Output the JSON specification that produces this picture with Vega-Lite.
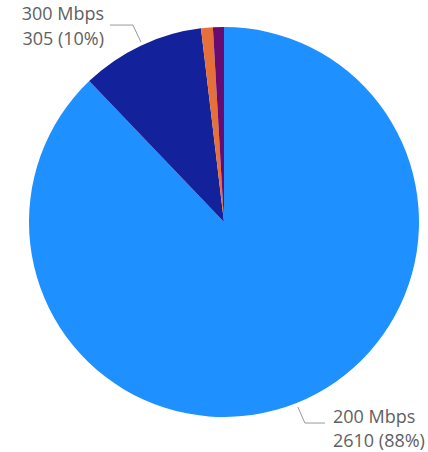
{
  "$schema": "https://vega.github.io/schema/vega-lite/v6.json",
  "width": 428,
  "height": 452,
  "autosize": {"type": "fit", "contains": "padding"},
  "padding": 0,
  "background": "white",
  "config": {"view": {"stroke": null}},
  "datasets": {
    "slices": [
      {"speed": "200 Mbps", "count": 2610, "pct": "88%", "ord": 1},
      {"speed": "300 Mbps", "count": 305, "pct": "10%", "ord": 2},
      {"speed": "500 Mbps", "count": 29, "pct": "1%", "ord": 3},
      {"speed": "1 Gbps", "count": 27, "pct": "1%", "ord": 4}
    ],
    "leaders": [
      {"speed": "300 Mbps", "step": 1, "lx": -58.5, "ly": 101.0},
      {"speed": "300 Mbps", "step": 2, "lx": -46.7, "ly": 101.0},
      {"speed": "300 Mbps", "step": 3, "lx": -42.6, "ly": 92.3},
      {"speed": "200 Mbps", "step": 1, "lx": 37.9, "ly": -94.9},
      {"speed": "200 Mbps", "step": 2, "lx": 41.5, "ly": -103.1},
      {"speed": "200 Mbps", "step": 3, "lx": 51.8, "ly": -103.1}
    ],
    "labels": [
      {"speed": "300 Mbps", "line1": "300 Mbps", "line2": "305 (10%)", "tx": -61.5, "ty1": 103.6, "ty2": 90.8, "side": "right"},
      {"speed": "200 Mbps", "line1": "200 Mbps", "line2": "2610 (88%)", "tx": 55.9, "ty1": -103.1, "ty2": -115.4, "side": "left"}
    ]
  },
  "layer": [
    {
      "data": {"name": "slices"},
      "mark": {"type": "arc", "outerRadius": 195},
      "encoding": {
        "x": {"datum": 0, "type": "quantitative", "scale": {"domain": [-114.87, 104.62], "nice": false, "zero": false}, "axis": null},
        "y": {"datum": 0, "type": "quantitative", "scale": {"domain": [-117.95, 113.85], "nice": false, "zero": false}, "axis": null},
        "theta": {"field": "count", "type": "quantitative", "stack": true},
        "order": {"field": "ord", "type": "quantitative", "sort": "ascending"},
        "color": {
          "field": "speed",
          "type": "nominal",
          "scale": {
            "domain": ["200 Mbps", "300 Mbps", "500 Mbps", "1 Gbps"],
            "range": ["#1E90FF", "#13219A", "#E6703A", "#6A0B72"]
          },
          "legend": null
        }
      }
    },
    {
      "data": {"name": "leaders"},
      "mark": {"type": "line", "color": "#9a9a9a", "strokeWidth": 1},
      "encoding": {
        "x": {"field": "lx", "type": "quantitative", "axis": null},
        "y": {"field": "ly", "type": "quantitative", "axis": null},
        "detail": {"field": "speed"},
        "order": {"field": "step"}
      }
    },
    {
      "data": {"name": "labels"},
      "transform": [{"filter": "datum.side === 'right'"}],
      "layer": [
        {
          "mark": {"type": "text", "align": "right", "baseline": "alphabetic", "fontSize": 18, "font": "Open Sans", "color": "#5f5f5f"},
          "encoding": {
            "x": {"field": "tx", "type": "quantitative"},
            "y": {"field": "ty1", "type": "quantitative"},
            "text": {"field": "line1"}
          }
        },
        {
          "mark": {"type": "text", "align": "right", "baseline": "alphabetic", "fontSize": 18, "font": "Open Sans", "color": "#5f5f5f"},
          "encoding": {
            "x": {"field": "tx", "type": "quantitative"},
            "y": {"field": "ty2", "type": "quantitative"},
            "text": {"field": "line2"}
          }
        }
      ]
    },
    {
      "data": {"name": "labels"},
      "transform": [{"filter": "datum.side === 'left'"}],
      "layer": [
        {
          "mark": {"type": "text", "align": "left", "baseline": "alphabetic", "fontSize": 18, "font": "Open Sans", "color": "#5f5f5f"},
          "encoding": {
            "x": {"field": "tx", "type": "quantitative"},
            "y": {"field": "ty1", "type": "quantitative"},
            "text": {"field": "line1"}
          }
        },
        {
          "mark": {"type": "text", "align": "left", "baseline": "alphabetic", "fontSize": 18, "font": "Open Sans", "color": "#5f5f5f"},
          "encoding": {
            "x": {"field": "tx", "type": "quantitative"},
            "y": {"field": "ty2", "type": "quantitative"},
            "text": {"field": "line2"}
          }
        }
      ]
    }
  ]
}
